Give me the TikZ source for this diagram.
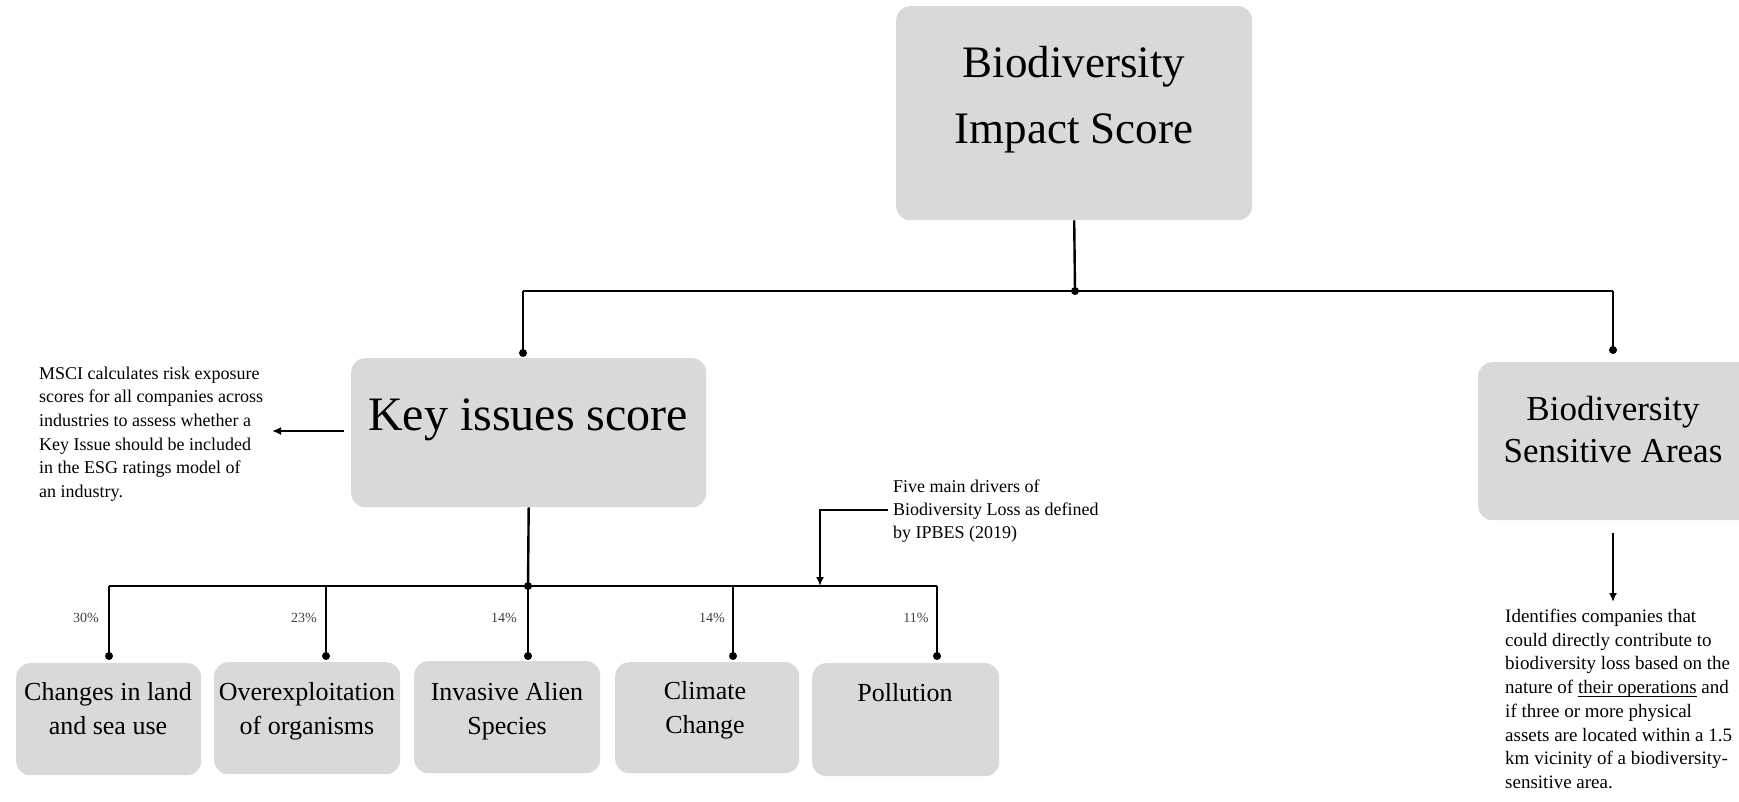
\documentclass[tikz,border=0pt]{standalone}
\usepackage{fontspec}
\setmainfont{Liberation Serif}
\usetikzlibrary{arrows.meta}
\definecolor{boxgray}{HTML}{D9D9D9}
\definecolor{pctgray}{HTML}{404040}
% thin underline sitting just below the baseline
\newsavebox\ulbox
\newcommand\ulthin[1]{\sbox\ulbox{#1}\rlap{\rule[-3pt]{\wd\ulbox}{0.9pt}}\usebox\ulbox}
\begin{document}
\begin{tikzpicture}[x=1pt,y=-1pt,
  box/.style={fill=boxgray, draw=none, rounded corners=14pt, inner sep=0pt, anchor=north west},
  boxtext/.style={anchor=north, inner sep=0pt, align=center},
  note/.style={anchor=north west, inner sep=0pt, align=left},
  pct/.style={anchor=base, inner sep=0pt, text=pctgray, font=\fontsize{14}{16}\selectfont},
  wire/.style={line width=2.4pt, black},
  tipwire/.style={wire, -{Latex[length=9pt,width=8pt]}},
  dot/.style={circle, fill=black, inner sep=0pt, minimum size=8pt}
]
\clip (0,0) rectangle (1739,801);
\useasboundingbox (0,0) rectangle (1739,801);

% ---- boxes ----
\node[box, minimum width=356pt, minimum height=214pt] (bis) at (896,6) {};
\node[box, minimum width=355pt, minimum height=149pt] (kis) at (351,358) {};
\node[box, minimum width=300pt, minimum height=158pt] (bsa) at (1478,362) {};
\node[box, minimum width=185pt, minimum height=112pt] (c1) at (16,663) {};
\node[box, minimum width=186pt, minimum height=112pt] (c2) at (214,662) {};
\node[box, minimum width=186pt, minimum height=112pt] (c3) at (414,661) {};
\node[box, minimum width=184pt, minimum height=111pt] (c4) at (615,662) {};
\node[box, minimum width=187pt, minimum height=113pt] (c5) at (812,663) {};

% ---- box captions ----
\node[boxtext, font=\fontsize{45}{66}\selectfont] (bisT) at (1074,46) {Biodiversity\\Impact Score};
\node[boxtext, font=\fontsize{48}{58}\selectfont] (kisT) at (528,399) {Key issues score};
\node[boxtext, font=\fontsize{35}{42}\selectfont] (bsaT) at (1613,396) {Biodiversity\\Sensitive Areas};
\node[boxtext, font=\fontsize{26}{34}\selectfont] (c1T) at (108,682) {Changes in land\\and sea use};
\node[boxtext, font=\fontsize{26}{34}\selectfont] (c2T) at (307,682) {Overexploitation\\of organisms};
\node[boxtext, font=\fontsize{26}{34}\selectfont] (c3T) at (507,682) {Invasive Alien\\Species};
\node[boxtext, font=\fontsize{26}{34}\selectfont] (c4T) at (705,681) {Climate\\Change};
\node[boxtext, font=\fontsize{26}{34}\selectfont] (c5T) at (905,683) {Pollution};

% ---- notes ----
\node[note, font=\fontsize{18}{23.6}\selectfont] (msci) at (39,366.7)
  {MSCI calculates risk exposure\\scores for all companies across\\industries to assess whether a\\Key Issue should be included\\in the ESG ratings model of\\an industry.};
\node[note, font=\fontsize{18}{23}\selectfont] (ipbes) at (893,479.7)
  {Five main drivers of\\Biodiversity Loss as defined\\by IPBES (2019)};
\node[note, font=\fontsize{19}{23.7}\selectfont] (desc) at (1505,609)
  {Identifies companies that\\could directly contribute to\\biodiversity loss based on the\\nature of \ulthin{their operations} and\\if three or more physical\\assets are located within a 1.5\\km vicinity of a biodiversity-\\sensitive area.};

% ---- percentages ----
\node[pct] (p1) at (86,622) {30\%};
\node[pct] (p2) at (304,622) {23\%};
\node[pct] (p3) at (504,622) {14\%};
\node[pct] (p4) at (712,622) {14\%};
\node[pct] (p5) at (916,622) {11\%};

% ---- junction points ----
\coordinate (busA)  at (1075,291);
\coordinate (busAL) at (523,291);
\coordinate (busAR) at (1613,291);
\coordinate (kisIn) at (523,353);
\coordinate (bsaIn) at (1613,350);
\coordinate (busB)  at (528,586);
\coordinate (busBL) at (109,586);
\coordinate (busBR) at (937,586);
\coordinate (d1) at (109,656);
\coordinate (d2) at (326,656);
\coordinate (d3) at (528,656);
\coordinate (d4) at (733,656);
\coordinate (d5) at (937,656);
\coordinate (msciFrom) at (344,431);
\coordinate (msciTo)   at (272,431);
\coordinate (ipbesFrom) at (888,510);
\coordinate (ipbesBend) at (820,510);
\coordinate (ipbesTo)   at (820,586);
\coordinate (bsaFrom) at (1613,533);
\coordinate (bsaTo)   at (1613,602);

% ---- connectors: top level ----
\draw[wire] (bis.south) -- (busA);
\draw[wire] (busAL) -- (busAR);
\draw[wire] (busAL) -- (kisIn);
\draw[wire] (busAR) -- (bsaIn);
\node[dot] at (busA) {};
\node[dot] at (kisIn) {};
\node[dot] at (bsaIn) {};

% ---- connectors: drivers ----
\draw[wire] (kis.south) -- (busB);
\draw[wire] (busBL) -- (busBR);
\foreach \d in {d1,d2,d3,d4,d5}{
  \draw[wire] (\d |- busB) -- (\d);
  \node[dot] at (\d) {};
}
\node[dot] at (busB) {};

% ---- annotation arrows ----
\draw[tipwire] (msciFrom) -- (msciTo);
\draw[tipwire] (ipbesFrom) -- (ipbesBend) -- (ipbesTo);
\draw[tipwire] (bsaFrom) -- (bsaTo);
\end{tikzpicture}
\end{document}
